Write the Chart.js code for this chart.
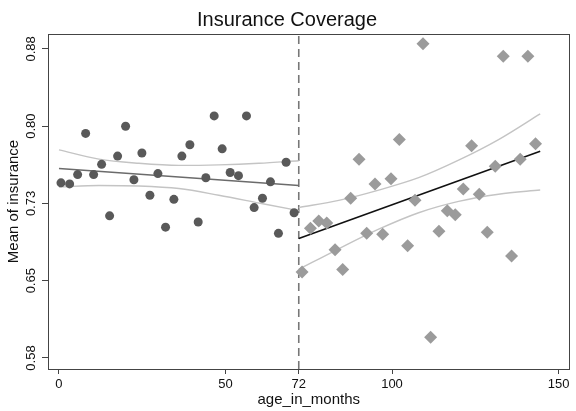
<!DOCTYPE html>
<html>
<head>
<title>Insurance Coverage</title>
<script src="https://cdn.jsdelivr.net/npm/chart.js@4"></script>
<style>
  body { margin: 0; background: #fff; }
</style>
</head>
<body>
<canvas id="rdChart" width="576" height="411"></canvas>
<script>
// bin means below the cutoff (circles)
const leftX = [0.6, 3.2, 5.6, 8.0, 10.4, 12.8, 15.2, 17.6, 20.0, 22.5, 24.9, 27.3, 29.7, 32.0, 34.5,
  36.9, 39.3, 41.8, 44.1, 46.6, 49.0, 51.4, 53.9, 56.3, 58.6, 61.1, 63.5, 65.9, 68.2, 70.6];
const leftY = [0.745, 0.744, 0.753, 0.793, 0.753, 0.763, 0.713, 0.771, 0.800, 0.748, 0.774, 0.733, 0.754, 0.702, 0.729,
  0.771, 0.782, 0.707, 0.750, 0.810, 0.778, 0.755, 0.752, 0.810, 0.721, 0.730, 0.746, 0.696, 0.765, 0.716];

// bin means above the cutoff (diamonds)
const rightX = [73.0, 75.5, 78.0, 80.4, 82.9, 85.2, 87.6, 90.1, 92.4, 94.9, 97.2, 99.7, 102.2, 104.7, 106.9,
  109.3, 111.6, 114.1, 116.6, 119.0, 121.4, 123.9, 126.2, 128.6, 131.0, 133.4, 135.9, 138.5, 140.8, 143.1];
const rightY = [0.6585, 0.701, 0.708, 0.706, 0.680, 0.661, 0.730, 0.768, 0.696, 0.744, 0.695, 0.749, 0.787, 0.684, 0.728,
  0.880, 0.595, 0.698, 0.718, 0.714, 0.739, 0.781, 0.734, 0.697, 0.761, 0.868, 0.674, 0.768, 0.868, 0.783];

// fitted lines and confidence bands
const leftFitX = [0, 72];
const leftFitY = [0.759, 0.7425];
const leftCiX = [0, 12, 24, 36, 48, 60, 72];
const leftCiUpper = [0.777, 0.768, 0.764, 0.762, 0.7625, 0.764, 0.7665];
const leftCiLower = [0.741, 0.7425, 0.742, 0.7395, 0.733, 0.7255, 0.718];

const rightFitX = [72, 144.5];
const rightFitY = [0.691, 0.7757];
const rightCiX = [72, 84, 96, 108, 120, 132, 144.5];
const rightCiUpper = [0.721, 0.728, 0.738, 0.750, 0.767, 0.787, 0.812];
const rightCiLower = [0.661, 0.681, 0.700, 0.716, 0.727, 0.734, 0.738];

const cutoff = 72;

const xTickValues = [0, 50, 72, 100, 150];
const xTickLabels = ['0', '50', '72', '100', '150'];
const yTickValues = [0.575, 0.65, 0.725, 0.8, 0.875];
const yTickLabels = ['0.58', '0.65', '0.73', '0.80', '0.88'];

const xMin = -3.3, xMax = 153.3;
const yMin = 0.5643, yMax = 0.8895;

const FONT = '"Liberation Sans", Arial, Helvetica, sans-serif';

const pts = (xs, ys) => xs.map((x, i) => ({ x: x, y: ys[i] }));

const lineDs = (data, color, width, extra) => Object.assign({
  data: data,
  showLine: true,
  borderColor: color,
  borderWidth: width,
  pointRadius: 0,
  pointHoverRadius: 0,
  fill: false
}, extra || {});

// box around the plot region
const frame = {
  id: 'frame',
  afterDatasetsDraw(chart) {
    const a = chart.chartArea;
    const c = chart.ctx;
    c.save();
    c.strokeStyle = '#444';
    c.lineWidth = 1;
    c.strokeRect(Math.round(a.left) + 0.5, Math.round(a.top) + 0.5,
      Math.round(a.right - a.left) - 1, Math.round(a.bottom - a.top));
    c.restore();
  }
};

new Chart(document.getElementById('rdChart'), {
  type: 'scatter',
  data: {
    datasets: [
      {
        data: pts(leftX, leftY),
        pointStyle: 'circle',
        pointRadius: 4.5,
        backgroundColor: '#595959',
        borderWidth: 0
      },
      {
        data: pts(rightX, rightY),
        pointStyle: 'rectRot',
        pointRadius: 6.5,
        backgroundColor: '#9b9b9b',
        borderWidth: 0
      },
      lineDs(pts(rightFitX, rightFitY), '#111', 1.6),
      lineDs(pts(leftFitX, leftFitY), '#6b6b6b', 1.6),
      lineDs(pts(leftCiX, leftCiUpper), '#c4c4c4', 1.4, { cubicInterpolationMode: 'monotone' }),
      lineDs(pts(leftCiX, leftCiLower), '#c4c4c4', 1.4, { cubicInterpolationMode: 'monotone' }),
      lineDs(pts(rightCiX, rightCiUpper), '#c4c4c4', 1.4, { cubicInterpolationMode: 'monotone' }),
      lineDs(pts(rightCiX, rightCiLower), '#c4c4c4', 1.4, { cubicInterpolationMode: 'monotone' }),
      lineDs([{ x: cutoff, y: yMin }, { x: cutoff, y: yMax }], '#777', 1.6, { borderDash: [8, 5] })
    ]
  },
  options: {
    responsive: false,
    animation: false,
    layout: { padding: { left: 0, right: 2, top: 0, bottom: 0 } },
    plugins: {
      legend: { display: false },
      tooltip: { enabled: false },
      title: {
        display: true,
        text: 'Insurance Coverage',
        color: '#111',
        font: { family: FONT, size: 20, weight: 'normal' },
        padding: { top: 8, bottom: 2 }
      }
    },
    scales: {
      x: {
        type: 'linear',
        min: xMin,
        max: xMax,
        afterBuildTicks: s => { s.ticks = xTickValues.map(v => ({ value: v })); },
        afterFit: s => { s.height = 42; },
        border: { display: false },
        grid: { drawOnChartArea: false, drawTicks: true, tickLength: 5, color: '#444' },
        ticks: {
          color: '#111',
          font: { family: FONT, size: 13 },
          padding: 3,
          maxRotation: 0,
          callback: (v, i) => xTickLabels[i]
        },
        title: {
          display: true,
          text: 'age_in_months',
          color: '#111',
          font: { family: FONT, size: 15 },
          padding: { top: 0, bottom: 2 }
        }
      },
      y: {
        type: 'linear',
        min: yMin,
        max: yMax,
        afterBuildTicks: s => { s.ticks = yTickValues.map(v => ({ value: v })); },
        afterFit: s => { s.width = 48; },
        border: { display: false },
        grid: { drawOnChartArea: false, drawTicks: true, tickLength: 6, color: '#444' },
        ticks: {
          color: '#111',
          font: { family: FONT, size: 13 },
          minRotation: 90,
          maxRotation: 90,
          crossAlign: 'center',
          padding: -2,
          callback: (v, i) => yTickLabels[i]
        },
        title: {
          display: true,
          text: 'Mean of insurance',
          color: '#111',
          font: { family: FONT, size: 15 },
          padding: { top: 5, bottom: 0 }
        }
      }
    }
  },
  plugins: [frame]
});
</script>
</body>
</html>
